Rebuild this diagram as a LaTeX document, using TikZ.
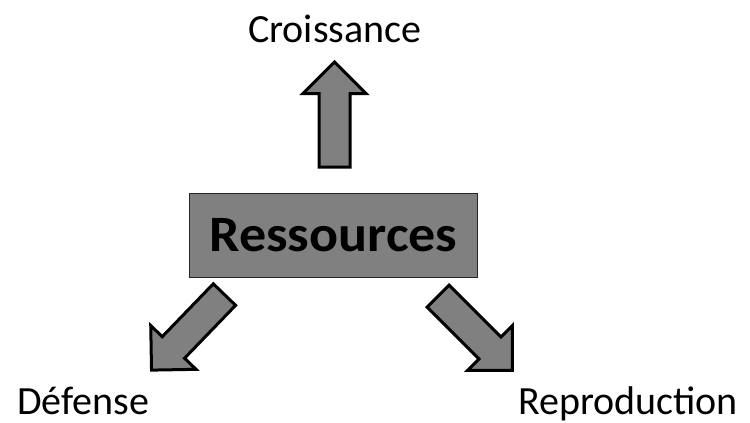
\documentclass[tikz,border=0pt]{standalone}
\usepackage{fontspec}
\setmainfont{Carlito}
\usetikzlibrary{shapes.arrows}
\definecolor{boxgray}{RGB}{128,128,128}
\tikzstyle{every node}=[inner sep=0pt]
\tikzstyle{lbl}=[font=\fontsize{40}{48}\selectfont,anchor=base west]
\tikzstyle{blockarrow}=[single arrow,draw=black,line width=3pt,fill=boxgray,
  minimum height=105pt,text height=0pt,text depth=0pt,text width=0pt,
  inner xsep=0pt,inner ysep=14pt,single arrow head extend=16pt,anchor=tail]

\begin{document}
\begin{tikzpicture}[x=1pt,y=-1pt]
\useasboundingbox (0,0) rectangle (750,423);
\node[draw=black!85,line width=1.5pt,fill=boxgray,minimum width=288pt,minimum height=84pt,
  font=\bfseries\fontsize{51}{60}\selectfont] (res) at (333.5,235.5) {\scalebox{1.06}[1]{Ressources}};
% arrows out of the box
\node[blockarrow,rotate=90]   (up) at (334.5,168.5) {};
\node[blockarrow,rotate=-134] (dl) at (225.5,293.5) {};
\node[blockarrow,rotate=-45]  (dr) at (437,295)     {};
% labels
\node[lbl] (cro) at (248,42)  {Croissance};
\node[lbl] (def) at (17,414)  {Défense};
\node[lbl] (rep) at (518,414) {Reproduction};
\end{tikzpicture}
\end{document}
